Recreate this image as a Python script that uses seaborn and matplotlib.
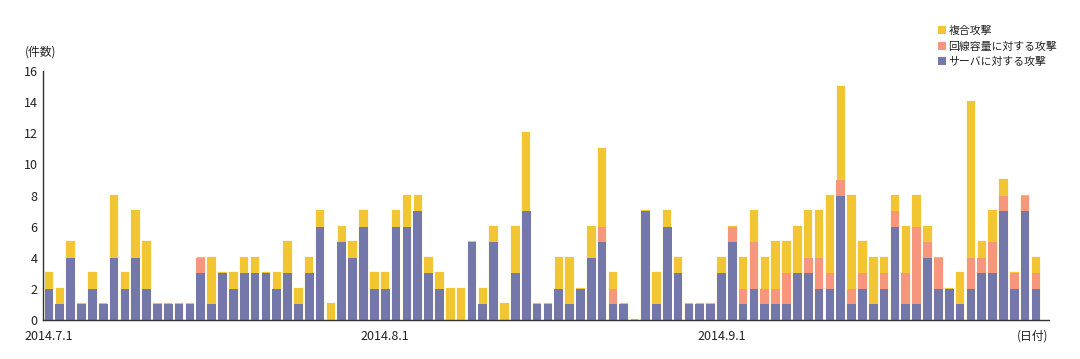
# daily attack counts, stacked by attack type (jul - sep 2014)

import matplotlib
matplotlib.use("Agg")
import matplotlib.pyplot as plt
import pandas as pd
import seaborn as sns
from matplotlib.patches import Patch

# counts per day, 2014.7.1 .. 2014.9.30
server = [
    2, 1, 4, 1, 2, 1, 4, 2, 4, 2, 1, 1, 1, 1, 3, 1, 3, 2, 3, 3, 3, 2, 3, 1, 3, 6, 0, 5, 4, 6, 2,
    2, 6, 6, 7, 3, 2, 0, 0, 5, 1, 5, 0, 3, 7, 1, 1, 2, 1, 2, 4, 5, 1, 1, 0, 7, 1, 6, 3, 1, 1, 1,
    3, 5, 1, 2, 1, 1, 1, 3, 3, 2, 2, 8, 1, 2, 1, 2, 6, 1, 1, 4, 2, 2, 1, 2, 3, 3, 7, 2, 7, 2,
]
line_capacity = [
    0, 0, 0, 0, 0, 0, 0, 0, 0, 0, 0, 0, 0, 0, 1, 0, 0, 0, 0, 0, 0, 0, 0, 0, 0, 0, 0, 0, 0, 0, 0,
    0, 0, 0, 0, 0, 0, 0, 0, 0, 0, 0, 0, 0, 0, 0, 0, 0, 0, 0, 0, 1, 1, 0, 0, 0, 0, 0, 0, 0, 0, 0,
    0, 1, 1, 3, 1, 1, 2, 0, 1, 2, 1, 1, 1, 1, 0, 1, 1, 2, 5, 1, 2, 0, 0, 2, 1, 2, 1, 1, 1, 1,
]
complex_attack = [
    1, 1, 1, 0, 1, 0, 4, 1, 3, 3, 0, 0, 0, 0, 0, 3, 0, 1, 1, 1, 0, 1, 2, 1, 1, 1, 1, 1, 1, 1, 1,
    1, 1, 2, 1, 1, 1, 2, 2, 0, 1, 1, 1, 3, 5, 0, 0, 2, 3, 0, 2, 5, 1, 0, 0, 0, 2, 1, 1, 0, 0, 0,
    1, 0, 2, 2, 2, 3, 2, 3, 3, 3, 5, 6, 6, 2, 3, 1, 1, 3, 2, 1, 0, 0, 2, 10, 1, 2, 1, 0, 0, 1,
]
tick_days = [0, 31, 62]
tick_labels = ["2014.7.1", "2014.8.1", "2014.9.1"]
series_labels = ["複合攻撃", "回線容量に対する攻撃", "サーバに対する攻撃"]

YELLOW = "#F2C532"
PINK = "#F5967D"
BLUE = "#7477AA"
TEXT = "#222222"


def main():
    sns.set_style("white")
    plt.rcParams["font.family"] = ["Noto Sans CJK JP", "DejaVu Sans"]

    df = pd.DataFrame({
        "day": range(len(server)),
        "server": server,
        "line": line_capacity,
        "complex": complex_attack,
    })
    df["mid"] = df["server"] + df["line"]
    df["total"] = df["mid"] + df["complex"]

    fig = plt.figure(figsize=(10.8, 3.59), dpi=100)
    ax = fig.add_axes([0.0398, 0.1086, 0.9315, 0.6936])

    # yellow bar carries an edge so a thin line shows on top when count is 0
    px_per_day = 0.9315 * 1080 / 92.75
    yellow_lw = 1.6
    yellow_w = 0.8 - yellow_lw / 72 * 100 / px_per_day

    sns.barplot(data=df, x="day", y="total", color=YELLOW, saturation=1,
                width=yellow_w, edgecolor=YELLOW, linewidth=yellow_lw,
                errorbar=None, ax=ax)
    sns.barplot(data=df, x="day", y="mid", color=PINK, saturation=1,
                width=0.8, linewidth=0, errorbar=None, ax=ax)
    sns.barplot(data=df, x="day", y="server", color=BLUE, saturation=1,
                width=0.8, linewidth=0, errorbar=None, ax=ax)

    ax.set_xlim(-0.55, 92.2)
    ax.set_ylim(0, 16)
    ax.set_yticks(range(0, 17, 2))
    ax.set_xticks(tick_days)
    ax.set_xticklabels(tick_labels)
    ax.set_xlabel("")
    ax.set_ylabel("")

    for side in ["top", "right"]:
        ax.spines[side].set_visible(False)
    for side in ["left", "bottom"]:
        ax.spines[side].set_color("#333333")
        ax.spines[side].set_linewidth(1.0)
        ax.spines[side].set_zorder(5)

    ax.tick_params(axis="y", direction="in", length=7, width=0.9,
                   color="#333333", pad=4, labelsize=9, labelcolor=TEXT)
    ax.tick_params(axis="x", direction="out", length=4.5, width=0.9,
                   color="#333333", pad=3, labelsize=9, labelcolor=TEXT)
    ax.xaxis.get_major_ticks()[0].tick1line.set_visible(False)

    fig.text(41 / 1080, 1 - 52 / 359, "(件数)", ha="center", va="center",
             fontsize=8.5, color=TEXT)
    fig.text(1033 / 1080, 1 - 336 / 359, "(日付)", ha="center", va="center",
             fontsize=8.5, color=TEXT)

    handles = [Patch(facecolor=c, edgecolor="none") for c in [YELLOW, PINK, BLUE]]
    ax.legend(handles, series_labels, loc="upper left",
              bbox_to_anchor=(938 / 1080, 1 - 26 / 359),
              bbox_transform=fig.transFigure, frameon=False,
              fontsize=7.8, handlelength=0.75, handleheight=0.75,
              handletextpad=0.2, labelspacing=0.5, borderpad=0,
              borderaxespad=0, labelcolor=TEXT)

    fig.savefig("out.png", dpi=100)


if __name__ == "__main__":
    main()
